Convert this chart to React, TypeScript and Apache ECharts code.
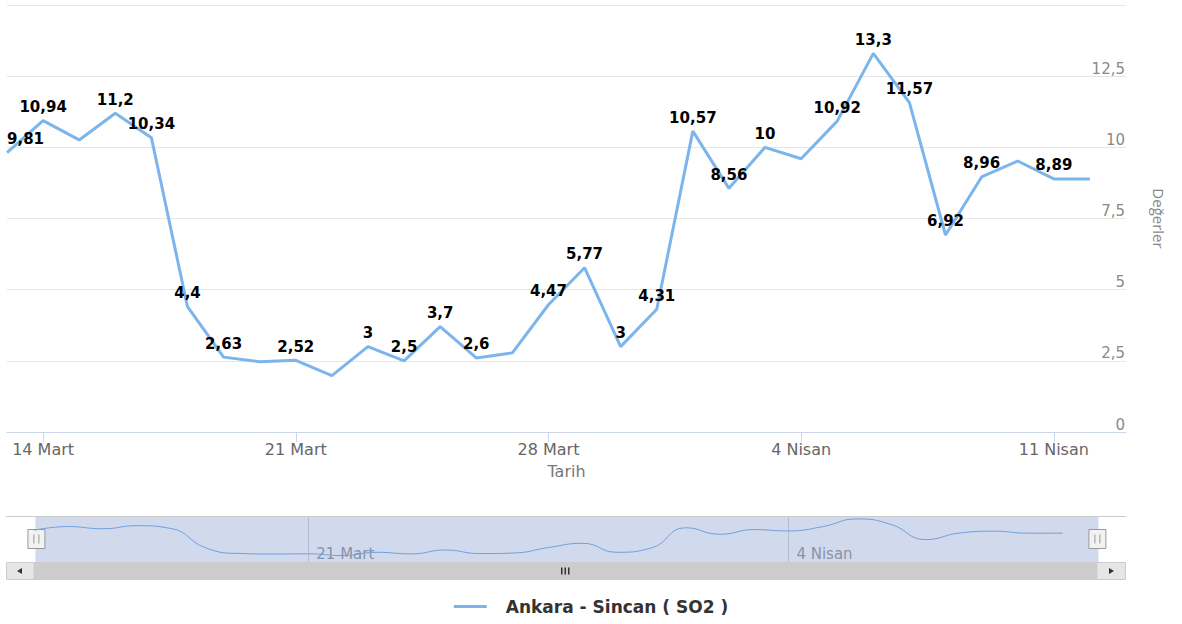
import React, { useEffect, useRef } from "react";
import * as echarts from "echarts";

const categories = [
  "13 Mart", "14 Mart", "15 Mart", "16 Mart", "17 Mart", "18 Mart", "19 Mart", "20 Mart",
  "21 Mart", "22 Mart", "23 Mart", "24 Mart", "25 Mart", "26 Mart", "27 Mart", "28 Mart",
  "29 Mart", "30 Mart", "31 Mart", "1 Nisan", "2 Nisan", "3 Nisan", "4 Nisan", "5 Nisan",
  "6 Nisan", "7 Nisan", "8 Nisan", "9 Nisan", "10 Nisan", "11 Nisan", "12 Nisan", "13 Nisan",
];

const so2Values = [
  9.81, 10.94, 10.26, 11.2, 10.34, 4.4, 2.63, 2.47, 2.52, 1.98, 3, 2.5, 3.7, 2.6, 2.78, 4.47,
  5.77, 3, 4.31, 10.57, 8.56, 10, 9.6, 10.92, 13.3, 11.57, 6.92, 8.96, 9.52, 8.89, 8.89,
];

const labelVisible = [
  true, true, false, true, true, true, true, false, true, false, true, true, true, true, false, true,
  true, true, true, true, true, true, false, true, true, true, true, true, false, true, false,
];

const seriesName = "Ankara - Sincan ( SO2 )";
const yAxisTitle = "Değerler";
const xAxisTitle = "Tarih";

const fmt = (v: number) => String(v).replace(".", ",");

export default function App() {
  const ref = useRef<HTMLDivElement>(null);

  useEffect(() => {
    if (!ref.current) return;
    const chart = echarts.init(ref.current, null, { renderer: "svg" });
    const mainTick = (i: number) => i >= 1 && (i - 1) % 7 === 0;
    const navTick = (i: number) => i >= 8 && (i - 8) % 14 === 0;

    chart.setOption({
      animation: false,
      backgroundColor: "#ffffff",
      textStyle: { fontFamily: "DejaVu Sans" },
      grid: [
        { left: 7, right: 56, top: 5, bottom: 192, outerBoundsMode: "none", containLabel: false },
        { left: 34, right: 85, top: 516, height: 46, outerBoundsMode: "none", containLabel: false },
      ],
      legend: {
        data: [seriesName],
        bottom: 4,
        left: "center",
        icon: "rect",
        itemWidth: 33,
        itemHeight: 3,
        textStyle: {
          fontFamily: "DejaVu Sans",
          fontWeight: "bold",
          fontSize: 17,
          color: "#333333",
          padding: [0, 0, 0, 14],
        },
      },
      xAxis: [
        {
          type: "category",
          gridIndex: 0,
          data: categories,
          boundaryGap: false,
          name: xAxisTitle,
          nameLocation: "middle",
          nameGap: 31,
          nameTextStyle: { color: "#777777", fontSize: 16, fontFamily: "DejaVu Sans" },
          axisLine: { lineStyle: { color: "#ccd6eb", width: 1 } },
          axisTick: { show: true, length: 10, interval: (i: number) => mainTick(i), lineStyle: { color: "#ccd6eb" } },
          axisLabel: {
            interval: (i: number) => mainTick(i),
            color: "#666666",
            fontSize: 16,
            margin: 9,
            fontFamily: "DejaVu Sans",
          },
          splitLine: { show: false },
        },
        {
          type: "category",
          gridIndex: 1,
          data: categories,
          boundaryGap: false,
          axisLine: { show: false },
          axisTick: { show: false },
          axisLabel: {
            interval: (i: number) => navTick(i),
            inside: true,
            align: "left",
            margin: 1,
            padding: [0, 0, 0, 8],
            color: "#999999",
            fontSize: 15,
            fontFamily: "DejaVu Sans",
          },
          splitLine: { show: true, interval: (i: number) => navTick(i), lineStyle: { color: "rgba(90,100,120,0.28)" } },
        },
      ],
      yAxis: [
        {
          type: "value",
          gridIndex: 0,
          position: "right",
          min: 0,
          max: 15,
          interval: 2.5,
          name: yAxisTitle,
          nameLocation: "middle",
          nameRotate: -90,
          nameGap: 25,
          nameTextStyle: { color: "#888888", fontSize: 15, fontFamily: "Open Sans" },
          axisLine: { show: false },
          axisTick: { show: false },
          axisLabel: {
            inside: true,
            verticalAlign: "bottom",
            margin: 1,
            color: "#8a8a8a",
            fontSize: 15,
            fontFamily: "DejaVu Sans",
            formatter: (v: number) => (v === 15 ? "" : fmt(v)),
          },
          splitLine: { lineStyle: { color: "#e6e6e6", width: 1 } },
        },
        { type: "value", gridIndex: 1, min: 0, max: 14.2, show: false },
      ],
      dataZoom: [
        {
          type: "slider",
          xAxisIndex: 0,
          start: 0,
          end: 100,
          left: 34,
          right: 85,
          top: 516,
          height: 46,
          filterMode: "none",
          showDataShadow: false,
          showDetail: false,
          brushSelect: false,
          backgroundColor: "rgba(0,0,0,0)",
          borderColor: "transparent",
          fillerColor: "rgba(102,133,194,0.3)",
          handleIcon: "path://M0,0h17v19h-17z M6,5v9 M11,5v9",
          handleSize: 19,
          handleStyle: { color: "#f2f2f2", borderColor: "#999999", borderWidth: 1 },
        },
      ],
      series: [
        {
          name: seriesName,
          type: "line",
          xAxisIndex: 0,
          yAxisIndex: 0,
          data: so2Values.map((v, i) => ({
            value: v,
            label: i === 0 ? { show: labelVisible[i], align: "left" } : { show: labelVisible[i] },
          })),
          symbol: "circle",
          symbolSize: 0.1,
          showSymbol: true,
          color: "#7cb5ec",
          lineStyle: { color: "#7cb5ec", width: 3 },
          itemStyle: { color: "#7cb5ec" },
          label: {
            position: "top",
            distance: 6,
            color: "#000000",
            fontWeight: "bold",
            fontSize: 15,
            fontFamily: "DejaVu Sans",
            formatter: (p: any) => fmt(p.value),
          },
          z: 3,
        },
        {
          name: "navigator",
          type: "line",
          xAxisIndex: 1,
          yAxisIndex: 1,
          data: so2Values,
          smooth: true,
          showSymbol: false,
          silent: true,
          lineStyle: { color: "#6f9fdc", width: 1 },
          itemStyle: { color: "#6f9fdc" },
          z: 6,
        },
      ],
      graphic: [
        { type: "line", z: 10, shape: { x1: 6, y1: 516.5, x2: 1126, y2: 516.5 }, style: { stroke: "#cccccc", lineWidth: 1 } },
        { type: "rect", z: 10, shape: { x: 34, y: 562, width: 1063, height: 18 }, style: { fill: "#cccccc" } },
        { type: "rect", z: 10, shape: { x: 6.5, y: 562.5, width: 27.5, height: 17 }, style: { fill: "#e6e6e6", stroke: "#cccccc", lineWidth: 1 } },
        { type: "rect", z: 10, shape: { x: 1097, y: 562.5, width: 28.5, height: 17 }, style: { fill: "#e6e6e6", stroke: "#cccccc", lineWidth: 1 } },
        { type: "polygon", z: 11, shape: { points: [[17, 571], [22, 568], [22, 574]] }, style: { fill: "#333333" } },
        { type: "polygon", z: 11, shape: { points: [[1114, 571], [1109, 568], [1109, 574]] }, style: { fill: "#333333" } },
        { type: "rect", z: 11, shape: { x: 561, y: 567.5, width: 1.5, height: 7 }, style: { fill: "#333333" } },
        { type: "rect", z: 11, shape: { x: 564.5, y: 567.5, width: 1.5, height: 7 }, style: { fill: "#333333" } },
        { type: "rect", z: 11, shape: { x: 568, y: 567.5, width: 1.5, height: 7 }, style: { fill: "#333333" } },
      ],
    });

    return () => chart.dispose();
  }, []);

  return (
    <div
      ref={ref}
      style={{ position: "fixed", left: 0, top: 0, width: 1182, height: 624 }}
    />
  );
}
